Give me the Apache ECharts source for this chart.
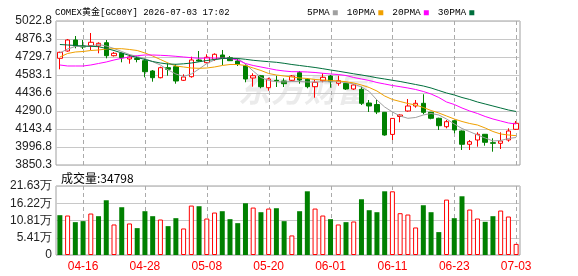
<!DOCTYPE html>
<html><head><meta charset="utf-8">
<script src="https://cdn.jsdelivr.net/npm/echarts@6/dist/echarts.min.js"></script>
<style>html,body{margin:0;padding:0;background:#fff}#c{width:578px;height:276px}</style>
</head><body><div id="c"></div>
<script>
const dates = ['04-13','04-14','04-15','04-16','04-17','04-20','04-21','04-22','04-23','04-24','04-27','04-28','04-29','04-30',
'05-01','05-04','05-05','05-06','05-07','05-08','05-11','05-12','05-13','05-14','05-15','05-18','05-19','05-20','05-21','05-22','05-25','05-26','05-27','05-28','05-29',
'06-01','06-02','06-03','06-04','06-05','06-08','06-09','06-10','06-11','06-12','06-15','06-16','06-17','06-18','06-19','06-22','06-23','06-24','06-25','06-26','06-29','06-30',
'07-01','07-02','07-03'];
const opens = [4719.1,4778.5,4868.1,4819.3,4821.7,4819.3,4846.1,4740.3,4759.8,4713.4,4717.5,4699.6,4615.7,4561.2,4642.6,4650.7,4539.9,4569.3,4705.3,4683.3,
4711.0,4746.0,4724.0,4697.1,4658.9,4558.7,4577.4,4479.7,4539.9,4534.3,4539.9,4601.9,4548.1,4487.9,4536.7,4574.9,4515.5,4515.5,4469.1,4466.7,
4355.0,4343.0,4279.4,4099.5,4245.3,4290.0,4330.7,4352.7,4279.4,4230.6,4162.2,4211.0,4127.2,4018.9,4053.9,4100.3,4031.9,4027.0,4053.9,4141.0];
const closes = [4768.0,4868.1,4819.3,4811.0,4849.4,4841.3,4740.3,4759.8,4724.0,4729.7,4709.3,4610.0,4561.2,4642.6,4629.5,4534.3,4566.8,4705.3,4697.1,4726.9,
4751.7,4719.0,4699.6,4670.2,4550.6,4577.4,4487.9,4550.6,4534.3,4512.3,4574.9,4542.4,4487.9,4523.7,4564.4,4528.6,4536.7,4469.1,4501.7,4352.7,
4330.7,4282.0,4094.6,4229.8,4257.5,4330.7,4352.7,4279.4,4230.6,4170.3,4202.9,4135.3,4018.9,4040.0,4100.3,4035.2,4027.0,4045.8,4127.2,4189.9];
const lows = [4629.5,4772.8,4800.5,4794.8,4786.7,4759.8,4719.1,4733.8,4686.5,4675.0,4686.5,4564.4,4528.6,4556.0,4577.4,4512.3,4534.3,4561.2,4691.4,4678.4,
4697.1,4664.6,4697.0,4656.4,4523.7,4487.9,4474.8,4455.3,4485.4,4485.4,4534.3,4512.3,4474.8,4398.3,4523.7,4479.7,4496.0,4461.0,4461.0,4338.9,
4282.0,4265.0,4088.9,4053.9,4198.0,4284.3,4316.9,4263.0,4222.5,4135.3,4149.0,4108.5,3972.5,3972.5,3999.4,4007.5,3958.6,3980.6,4040.0,4135.3];
const highs = [4772.8,4876.3,4900.7,4868.1,4925.1,4849.4,4868.1,4770.4,4766.0,4751.7,4737.8,4719.0,4623.8,4650.7,4678.4,4670.2,4588.8,4732.1,4778.5,4751.7,
4759.8,4786.7,4737.8,4719.0,4670.2,4597.0,4583.1,4561.2,4577.4,4556.0,4583.0,4615.7,4556.0,4542.4,4597.0,4583.1,4577.4,4518.0,4507.4,4487.9,
4379.6,4380.0,4282.0,4232.0,4263.0,4387.7,4379.6,4426.0,4282.0,4235.5,4216.7,4214.0,4131.0,4053.9,4116.6,4102.8,4067.7,4116.6,4149.2,4208.6];
const ma5 = [4762.3,4794.8,4815.2,4815.2,4819.3,4831.5,4819.3,4798.9,4774.5,4750.1,4733.8,4715.9,4691.4,4664.6,4623.9,4591.3,4570.9,4591.3,4632.0,4676.8,
4705.3,4719.1,4719.1,4717.5,4672.7,4615.7,4562.8,4538.4,4528.6,4526.2,4530.2,4530.2,4526.2,4526.2,4528.6,4528.6,4528.6,4522.1,4509.9,4485.4,
4448.8,4379.6,4322.6,4281.9,4249.3,4230.6,4237.1,4257.5,4269.7,4257.5,4224.9,4184.2,4147.6,4121.5,4094.6,4070.2,4045.8,4049.9,4066.1,4074.3];
const ma10 = [4729.7,4758.2,4770.4,4774.5,4782.6,4786.7,4794.8,4797.3,4797.3,4790.8,4782.6,4762.3,4737.8,4709.4,4680.8,4656.4,4648.3,4640.1,4637.7,4640.1,
4648.3,4660.5,4668.6,4668.6,4660.5,4640.1,4619.8,4595.4,4583.1,4575.0,4566.9,4558.7,4554.7,4546.5,4542.4,4538.4,4534.3,4528.6,4518.0,4501.7,
4481.4,4452.9,4412.2,4383.7,4367.4,4351.1,4338.9,4318.5,4294.1,4273.8,4249.3,4224.9,4204.5,4188.3,4176.0,4151.6,4123.1,4102.8,4094.6,4088.9];
const ma20 = [4664.6,4656.4,4656.4,4656.4,4664.6,4676.8,4689.0,4705.3,4719.1,4729.7,4740.3,4746.0,4746.0,4743.5,4740.3,4735.4,4729.7,4724.0,4719.1,4721.6,
4721.6,4719.9,4717.5,4705.3,4676.8,4660.5,4648.3,4636.1,4623.9,4615.7,4610.0,4610.0,4607.6,4603.5,4597.0,4591.3,4587.2,4579.1,4562.8,4550.6,
4538.4,4522.1,4509.9,4497.7,4487.9,4477.3,4465.1,4448.8,4428.5,4400.0,4363.3,4343.0,4314.5,4290.0,4269.7,4245.3,4224.9,4208.6,4192.3,4184.2];
const ma30 = [4831.5,4827.4,4823.3,4819.3,4816.8,4813.6,4798.9,4782.6,4762.3,4741.9,4725.6,4709.4,4693.1,4680.8,4672.7,4670.3,4674.3,4680.8,4690.6,4701.2,
4709.4,4717.5,4719.1,4717.5,4711.0,4702.8,4697.1,4691.4,4686.6,4678.4,4668.6,4660.5,4652.4,4644.2,4634.4,4623.9,4614.1,4603.5,4592.9,4583.1,
4572.6,4560.4,4550.6,4540.0,4530.2,4518.0,4505.8,4493.6,4477.3,4456.9,4436.6,4420.3,4400.0,4383.7,4363.3,4347.0,4330.7,4314.5,4298.2,4286.0];
const volumes = [124800,123760,102960,106080,130000,121680,171600,95680,149760,98800,84240,137280,121680,111280,90480,115440,83200,154960,152880,114400,
133120,137280,112320,99840,162240,148720,134160,145600,146640,106080,61360,137280,199680,145600,123760,112320,95680,102960,105040,174720,
140400,134160,199680,199680,131040,126880,86320,156000,134160,71760,173680,115440,184080,142480,114400,104000,121680,139360,120640,34798];
const volUp = [0,1,0,0,1,0,0,1,0,1,0,0,0,1,0,0,1,1,0,1,1,0,0,0,0,1,0,1,0,0,1,0,0,1,1,0,1,0,1,0,0,0,0,1,1,1,1,0,0,0,1,0,0,1,1,0,0,1,1,1];
const priceTicks = ['3850.3','3996.8','4143.4','4290.0','4436.6','4583.1','4729.7','4876.3','5022.8'];
const volTicks = ['0','5.41万','10.81万','16.22万','21.63万'];
const maNames = ['5PMA','10PMA','20PMA','30PMA'];
const titleText = 'COMEX黄金[GC00Y] 2026-07-03 17:02';

const UP = '#ff0000', DOWN = '#008000';
const maColors = ['#a0a0a0','#f0a000','#ff00ff','#006f3c'];
const numFont = '"Liberation Sans", Arial, sans-serif';
const monoFont = '"Liberation Mono", "Noto Sans CJK SC", monospace';
const labelAt = (i) => i % 8 === 3;

const candleData = dates.map((d, i) => [opens[i], closes[i], lows[i], highs[i]]);
const volData = volumes.map((v, i) => volUp[i]
  ? { value: v, itemStyle: { color: '#ffffff', borderColor: UP, borderWidth: 1 } }
  : { value: v, itemStyle: { color: DOWN, borderColor: DOWN, borderWidth: 0 } });
const volMax = 216300, volInt = volMax / 4;

const G = { left: 56, width: 464, top0: 21, h0: 144, top1: 186, h1: 69 };
const chart = echarts.init(document.getElementById('c'), null, { renderer: 'canvas' });
const xBase = (gi) => ({
  type: 'category', gridIndex: gi, data: dates, boundaryGap: true,
  axisLine: { show: false }, axisTick: { show: false }, splitLine: { show: false }
});
const x0 = xBase(0); x0.axisLabel = { show: false };
const x1 = xBase(1); x1.axisLabel = { show: true, interval: labelAt, color: '#ff0000', fontFamily: numFont, fontSize: 12, margin: 6 };
const watermark = { id: 'wm', type: 'text', left: 238, top: 73, z: -10, silent: true,
  style: { text: '东方财富', fill: '#ebebeb', font: 'italic bold 33px "Noto Sans CJK SC", sans-serif' } };

chart.setOption({
  animation: false,
  backgroundColor: '#ffffff',
  title: [
    { text: titleText, left: 50, top: 3, textStyle: { fontFamily: monoFont, fontSize: 9, fontWeight: 'normal', color: '#000' } },
    { text: '成交量:' + volumes[volumes.length - 1], left: 56, top: 167, textStyle: { fontFamily: '"Noto Sans CJK SC", sans-serif', fontSize: 12, fontWeight: 'normal', color: '#000' } }
  ],
  legend: {
    left: 302, top: 3, align: 'right', icon: 'rect', itemWidth: 5, itemHeight: 5, itemGap: 9,
    textStyle: { fontFamily: monoFont, fontSize: 9.5, color: '#000', padding: [0, -2, 0, 0] },
    data: maNames
  },
  graphic: [watermark],
  grid: [
    { left: G.left, width: G.width, top: G.top0, height: G.h0, show: true, borderColor: '#a0a0a0', borderWidth: 1, backgroundColor: 'transparent' },
    { left: G.left, width: G.width, top: G.top1, height: G.h1, show: true, borderColor: '#a0a0a0', borderWidth: 1, backgroundColor: 'transparent' }
  ],
  xAxis: [x0, x1],
  yAxis: [
    { type: 'value', gridIndex: 0, position: 'right', min: parseFloat(priceTicks[0]), max: parseFloat(priceTicks[priceTicks.length - 1]), show: false, splitLine: { show: false } },
    { type: 'value', gridIndex: 0, position: 'left', min: 0, max: priceTicks.length - 1, interval: 1,
      axisLine: { show: false }, axisTick: { show: false },
      axisLabel: { fontFamily: numFont, fontSize: 12, color: '#222', margin: 4, formatter: (v) => priceTicks[Math.round(v)] },
      splitLine: { show: true, lineStyle: { color: '#c8c8c8', width: 1 } } },
    { type: 'value', gridIndex: 1, position: 'left', min: 0, max: volMax, interval: volInt,
      axisLine: { show: false }, axisTick: { show: false },
      axisLabel: { fontFamily: numFont, fontSize: 12, color: '#222', margin: 4, formatter: (v) => volTicks[Math.round(v / volInt)] },
      splitLine: { show: true, lineStyle: { color: '#c8c8c8', width: 1 } } }
  ],
  series: [
    { type: 'candlestick', xAxisIndex: 0, yAxisIndex: 0, data: candleData, barWidth: 5, z: 3,
      itemStyle: { color: '#ffffff', color0: DOWN, borderColor: UP, borderColor0: DOWN, borderWidth: 1 } },
    ...[ma5, ma10, ma20, ma30].map((arr, k) => ({
      type: 'line', name: maNames[k], xAxisIndex: 0, yAxisIndex: 0, data: arr, symbol: 'none', z: 4,
      itemStyle: { color: maColors[k] }, lineStyle: { color: maColors[k], width: 1 }
    })),
    { type: 'bar', xAxisIndex: 1, yAxisIndex: 2, data: volData, barWidth: 5, z: 3 }
  ]
});

// dashed vertical gridlines at the labelled dates, positioned through the axes' own scales
const vGraphics = [watermark];
const pTop = chart.convertToPixel({ yAxisIndex: 1 }, priceTicks.length - 1);
const pBot = chart.convertToPixel({ yAxisIndex: 1 }, 0);
const vTop = chart.convertToPixel({ yAxisIndex: 2 }, volMax);
const vBot = chart.convertToPixel({ yAxisIndex: 2 }, 0);
dates.forEach((d, i) => {
  if (!labelAt(i)) return;
  const x = Math.round(chart.convertToPixel({ xAxisIndex: 0 }, i)) + 0.5;
  [[pTop, pBot], [vTop, vBot]].forEach(([a, b]) => {
    vGraphics.push({ type: 'line', z: 2, silent: true,
      shape: { x1: x, y1: a, x2: x, y2: b },
      style: { stroke: '#aaaaaa', lineWidth: 1, lineDash: [4, 3] } });
  });
});
chart.setOption({ graphic: vGraphics });
</script></body></html>
